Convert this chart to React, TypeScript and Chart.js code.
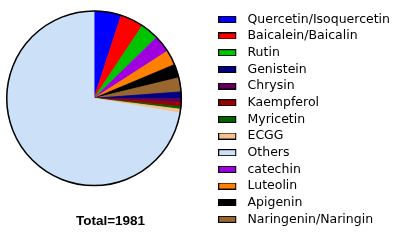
import React, { useEffect, useRef } from "react";
import { Chart, registerables } from "chart.js";

Chart.register(...registerables);

// Slices in the order they are drawn clockwise from 12 o'clock
const categories = [
  "Quercetin/Isoquercetin",
  "Baicalein/Baicalin",
  "Rutin",
  "catechin",
  "Luteolin",
  "Apigenin",
  "Naringenin/Naringin",
  "Genistein",
  "Chrysin",
  "Kaempferol",
  "Myricetin",
  "ECGG",
  "Others",
];
const counts = [100, 85, 67, 63, 55, 50, 52, 25, 13, 16, 9, 14, 1432];
const colors = [
  "#0000FF",
  "#FF0000",
  "#00C400",
  "#A000E0",
  "#FF8000",
  "#000000",
  "#996630",
  "#000080",
  "#600058",
  "#990000",
  "#006400",
  "#F8C28E",
  "#CCE0F8",
];
// Order in which the legend lists the entries
const legendOrder = [
  "Quercetin/Isoquercetin",
  "Baicalein/Baicalin",
  "Rutin",
  "Genistein",
  "Chrysin",
  "Kaempferol",
  "Myricetin",
  "ECGG",
  "Others",
  "catechin",
  "Luteolin",
  "Apigenin",
  "Naringenin/Naringin",
];
const totalLabel = "Total=1981";

function makeSwatch(color: string): HTMLCanvasElement {
  const c = document.createElement("canvas");
  c.width = 23;
  c.height = 7;
  const g = c.getContext("2d")!;
  g.fillStyle = color;
  g.fillRect(0, 0, 18, 7);
  g.strokeStyle = "#000";
  g.lineWidth = 1;
  g.strokeRect(0.5, 0.5, 17, 6);
  return c;
}

const outlinePlugin = {
  id: "pieOutline",
  afterDatasetsDraw(chart: any) {
    const arc = chart.getDatasetMeta(0).data[0];
    if (!arc) return;
    const ctx = chart.ctx;
    ctx.save();
    ctx.beginPath();
    ctx.arc(arc.x, arc.y, arc.outerRadius, 0, Math.PI * 2);
    ctx.lineWidth = 1.5;
    ctx.strokeStyle = "#000";
    ctx.stroke();
    ctx.restore();
  },
};

// Widen the plot area to the left so the pie sits further left,
// and nudge the bottom title to the right.
const layoutTweakPlugin = {
  id: "layoutTweak",
  afterLayout(chart: any) {
    const area = chart.chartArea;
    area.left -= 26;
    area.width += 26;
    const t = chart.titleBlock;
    if (t) {
      t.left += 3.5;
      t.right += 3.5;
    }
  },
};

export default function App() {
  const ref = useRef<HTMLCanvasElement | null>(null);

  useEffect(() => {
    if (!ref.current) return;
    const swatches = colors.map(makeSwatch);
    const chart = new Chart(ref.current, {
      type: "doughnut",
      data: {
        labels: categories,
        datasets: [
          {
            data: counts,
            backgroundColor: colors,
            borderColor: colors,
            borderWidth: 0.8,
            radius: 87.3,
          } as any,
        ],
      },
      options: {
        responsive: false,
        animation: false,
        events: [],
        cutout: 0,
        layout: { padding: { left: 0, right: 0, top: 8.9, bottom: 4 } },
        plugins: {
          tooltip: { enabled: false },
          legend: {
            position: "right",
            align: "start",
            maxWidth: 186,
            labels: {
              color: "#000",
              font: { family: "'DejaVu Sans', sans-serif", size: 12.5 },
              padding: 4.17,
              usePointStyle: true,
              pointStyleWidth: 23,
              generateLabels: () =>
                categories.map((label, i) => ({
                  text: label,
                  fillStyle: colors[i],
                  strokeStyle: "#000",
                  lineWidth: 1,
                  pointStyle: swatches[i],
                  fontColor: "#000",
                  hidden: false,
                  index: i,
                })) as any,
              sort: (a: any, b: any) =>
                legendOrder.indexOf(a.text) - legendOrder.indexOf(b.text),
            },
          },
          title: {
            display: true,
            position: "bottom",
            fullSize: false,
            text: totalLabel,
            color: "#000",
            font: {
              family: "'Liberation Sans', Arial, sans-serif",
              size: 13.5,
              weight: "bold",
            },
            padding: { top: 25.7, bottom: 10.4 },
          },
        },
      } as any,
      plugins: [outlinePlugin, layoutTweakPlugin],
    });
    return () => chart.destroy();
  }, []);

  return (
    <div style={{ position: "fixed", left: 0, top: 0, width: 400, height: 244, background: "#fff" }}>
      <canvas ref={ref} width={400} height={244} />
    </div>
  );
}
